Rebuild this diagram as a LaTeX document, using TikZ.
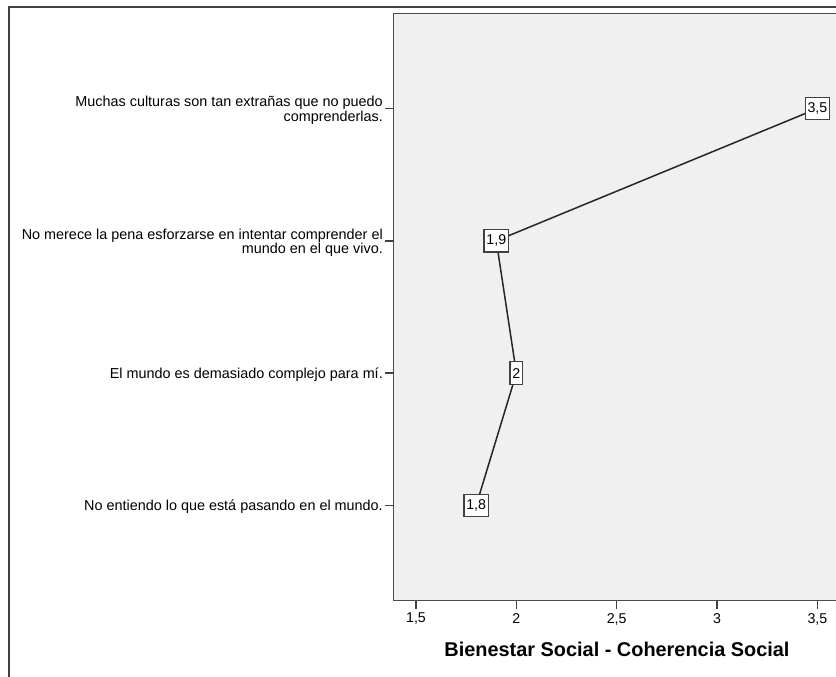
\documentclass[tikz,border=0pt]{standalone}
\usepackage{fontspec}
\setmainfont{Liberation Sans}
\begin{document}
\begin{tikzpicture}[x=1pt,y=-1pt,
  lbl/.style={anchor=east,align=right,inner sep=0pt,font=\fontsize{14.4}{14.6}\selectfont},
  val/.style={draw=black!75,fill=white,line width=1.2pt,inner xsep=2.4pt,inner ysep=0pt,minimum height=22.5pt,font=\fontsize{14.2}{15}\selectfont},
  ticklbl/.style={anchor=north,inner sep=0pt,font=\fontsize{14.2}{15}\selectfont},
  axtitle/.style={anchor=base,inner sep=0pt,font=\fontsize{19.9}{22}\selectfont\bfseries},
  conn/.style={line width=1.5pt,black!85},
  tk/.style={line width=1.4pt,black!75}]
\useasboundingbox (0,0) rectangle (836,677);
\clip (0,0) rectangle (836,677);
% outer frame
\draw[line width=1.6pt,black!75] (9,700) -- (9,7) -- (850,7);
% plot area
\draw[fill={rgb,255:red,240;green,240;blue,240},draw=black!70,line width=1.5pt] (393.5,13.5) rectangle (845,600.5);
% y ticks and labels
\foreach \yy in {108.5,240.8,373.1,505.4} \draw[tk] (385,\yy) -- (393.5,\yy);
\node[lbl] (l1) at (383,110.5) {Muchas culturas son tan extrañas que no puedo\\comprenderlas.};
\node[lbl] (l2) at (383,242.8) {No merece la pena esforzarse en intentar comprender el\\mundo en el que vivo.};
\node[lbl] (l3) at (383,374.6) {El mundo es demasiado complejo para mí.};
\node[lbl] (l4) at (383,506.9) {No entiendo lo que está pasando en el mundo.};
% x ticks and labels
\foreach \xx/\tl in {416/{1,5},516.4/2,616.7/{2,5},717.1/3,817.4/{3,5}} {
  \draw[tk] (\xx,600.5) -- (\xx,609);
  \node[ticklbl] at (\xx,613) {\tl};
}
\node[axtitle] (xt) at (617,656.5) {Bienestar Social - Coherencia Social};
% data
\coordinate (c1) at (817.4,108.5);
\coordinate (c2) at (496.3,240.8);
\coordinate (c3) at (516.4,373.1);
\coordinate (c4) at (476.2,505.4);
\draw[conn] (c1) -- (c2) -- (c3) -- (c4);
\node[val] (p1) at (c1) {3,5};
\node[val] (p2) at (c2) {1,9};
\node[val] (p3) at (c3) {2};
\node[val] (p4) at (c4) {1,8};
\end{tikzpicture}
\end{document}
